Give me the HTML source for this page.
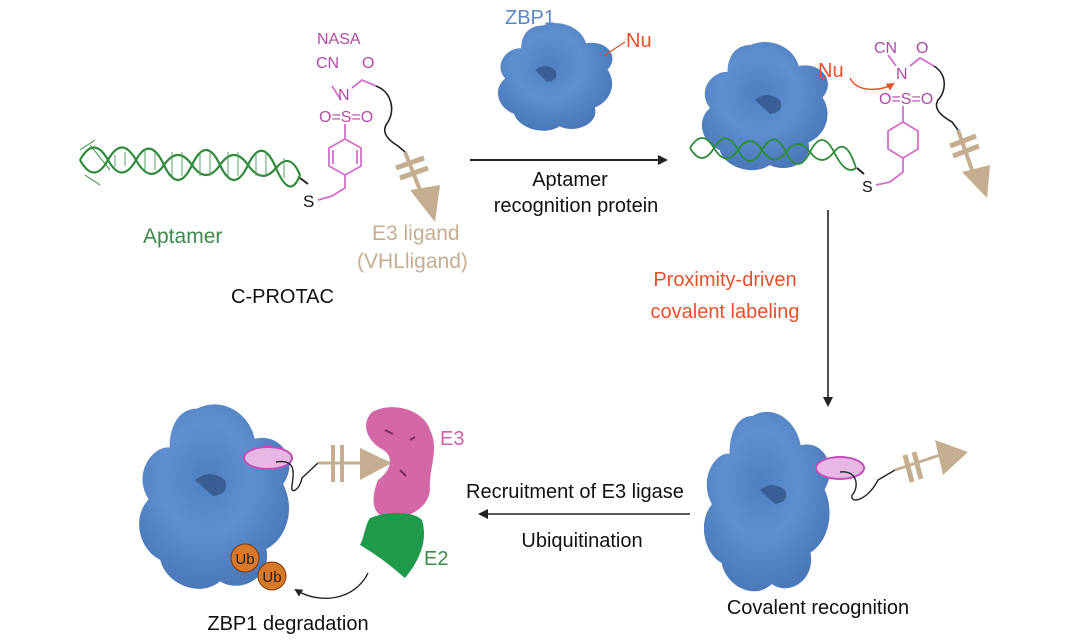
<!DOCTYPE html>
<html><head><meta charset="utf-8"><style>
html,body{margin:0;padding:0;background:#fff;}
svg{display:block;font-family:"Liberation Sans",sans-serif;}
</style></head><body>
<svg width="1080" height="641" viewBox="0 0 1080 641">
<defs>
<path id="blob" d="M-20,-80 C5,-92 30,-75 35,-52 C60,-58 78,-32 62,-10 C74,12 66,40 46,50 C52,76 22,92 2,80 C-18,96 -50,82 -55,60 C-76,50 -82,20 -66,4 C-82,-20 -62,-46 -46,-44 C-46,-66 -36,-80 -20,-80Z"/>
<radialGradient id="bg" cx="45%" cy="40%" r="60%"><stop offset="0" stop-color="#4f7fc0"/><stop offset="0.5" stop-color="#5f8fd0"/><stop offset="1" stop-color="#4a78b8"/></radialGradient>
<marker id="ah" markerWidth="10" markerHeight="10" refX="8" refY="5" orient="auto" markerUnits="userSpaceOnUse"><path d="M0,0 L10,5 L0,10 Z" fill="#222"/></marker>
<marker id="ahs" markerWidth="8" markerHeight="8" refX="6" refY="4" orient="auto" markerUnits="userSpaceOnUse"><path d="M0,0 L8,4 L0,8 Z" fill="#222"/></marker>
<marker id="ahr" markerWidth="8" markerHeight="8" refX="6" refY="4" orient="auto" markerUnits="userSpaceOnUse"><path d="M0,0 L8,4 L0,8 Z" fill="#e8502a"/></marker>
</defs>

<!-- ===== Top-left C-PROTAC ===== -->
<g stroke="#2e8a3a" fill="none" stroke-width="2.2">
<path d="M80,160 Q94,135 108,160 T136,160 T164,165 T192,165 T220,165 T248,165 T276,168 T300,175"/>
<path d="M80,160 Q94,185 108,160 T136,160 T164,165 T192,165 T220,165 T248,165 T276,168 T300,175"/>
<path d="M80,150 L95,140 M85,175 L100,185 M90,145 L110,170" stroke-width="1"/>
</g>
<g stroke="#5aa064" stroke-width="1">
<path d="M115,155v12M125,152v14M145,150v20M155,152v18M172,152v24M182,152v24M200,152v24M210,152v24M228,152v24M238,152v24M256,152v24M266,152v24M284,158v20"/>
</g>
<path d="M300,178 L308,184" stroke="#222" stroke-width="2"/>
<text x="303" y="207" font-size="17" fill="#111">S</text>
<g stroke="#d070c8" stroke-width="1.8" fill="none">
<path d="M318,200 L332,196 L345,188 L345,175"/>
<polygon points="345,175 329,166 329,148 345,139 361,148 361,166"/>
<path d="M333,164 V150 M357,164 V150"/>
<path d="M345,139 L345,124"/>
<path d="M341,100 L332,86 M352,88 L362,80 L376,86"/>
</g>
<text x="319" y="122" font-size="16" fill="#b04aa8">O=S=O</text>
<text x="338" y="100" font-size="16" fill="#b04aa8">N</text>
<text x="316" y="68" font-size="16" fill="#b04aa8">CN</text>
<text x="362" y="68" font-size="16" fill="#b04aa8">O</text>
<text x="317" y="44" font-size="16" fill="#b04aa8">NASA</text>
<path d="M376,86 C392,92 395,110 388,122 C380,132 388,140 398,146 L405,152" stroke="#222" stroke-width="1.6" fill="none"/>
<g stroke="#c4ad91" stroke-width="4" fill="none">
<path d="M405,152 L420,190"/>
<path d="M396,168 L424,158 M400,178 L428,168" stroke-width="5"/>
</g>
<polygon points="410,190 440,185 435,222" fill="#c4ad91"/>
<text x="143" y="243" font-size="21" fill="#3d8a4a">Aptamer</text>
<text x="372" y="240" font-size="21" fill="#c4ad91">E3 ligand</text>
<text x="357" y="268" font-size="21" fill="#c4ad91">(VHLligand)</text>
<text x="231" y="303" font-size="20" fill="#111">C-PROTAC</text>

<!-- ===== Top middle ===== -->
<use href="#blob" transform="translate(558,76) scale(0.8,0.63)" fill="url(#bg)"/>
<path d="M535,70 q10,-8 20,0 q5,10 -8,12z" fill="#2e4f80" opacity="0.7"/>
<text x="505" y="24" font-size="20" fill="#5b86c8">ZBP1</text>
<path d="M605,55 L625,42" stroke="#e8502a" stroke-width="1.2"/>
<text x="626" y="47" font-size="20" fill="#e8502a">Nu</text>
<path d="M470,160 L666,160" stroke="#222" stroke-width="2" marker-end="url(#ah)"/>
<text x="570" y="186" font-size="20" fill="#111" text-anchor="middle">Aptamer</text>
<text x="576" y="212" font-size="20" fill="#111" text-anchor="middle">recognition protein</text>

<!-- ===== Top right ===== -->
<use href="#blob" transform="translate(768,105) scale(0.88,0.75)" fill="url(#bg)"/>
<path d="M755,100 q12,-10 25,0 q5,12 -10,14z" fill="#2e4f80" opacity="0.7"/>
<g stroke="#2e8a3a" fill="none" stroke-width="1.8">
<path d="M690,148 Q702,128 714,148 T738,150 T762,150 T786,152 T810,152 T834,152 T856,168"/>
<path d="M690,148 Q702,168 714,148 T738,150 T762,150 T786,152 T810,152 T834,152 T856,168"/>
</g>
<path d="M857,168 L864,174" stroke="#222" stroke-width="2"/>
<text x="862" y="192" font-size="16" fill="#111">S</text>
<g stroke="#d070c8" stroke-width="1.8" fill="none">
<path d="M876,185 L890,182 L903,172 L903,158"/>
<polygon points="903,158 888,149 888,131 903,122 918,131 918,149"/>
<path d="M903,122 L903,106 M896,66 L888,55 M910,66 L920,58 L934,66"/>
</g>
<text x="879" y="104" font-size="16" fill="#b04aa8">O=S=O</text>
<text x="896" y="79" font-size="16" fill="#b04aa8">N</text>
<text x="874" y="53" font-size="16" fill="#b04aa8">CN</text>
<text x="916" y="53" font-size="16" fill="#b04aa8">O</text>
<path d="M934,66 C948,75 946,92 938,100 C932,110 945,118 952,122 L958,130" stroke="#222" stroke-width="1.6" fill="none"/>
<g stroke="#c4ad91" stroke-width="4" fill="none">
<path d="M958,130 L972,170"/><path d="M950,146 L976,136 M953,156 L979,146" stroke-width="5"/>
</g>
<polygon points="962,172 990,165 987,198" fill="#c4ad91"/>
<path d="M820,80 L826,76" stroke="#e8502a" stroke-width="1.2"/>
<text x="818" y="77" font-size="20" fill="#e8502a">Nu</text>
<path d="M850,78 C856,92 880,92 893,84" stroke="#e8502a" stroke-width="1.5" fill="none" marker-end="url(#ahr)"/>

<path d="M828,210 L828,405" stroke="#222" stroke-width="1.6" marker-end="url(#ah)"/>
<text x="725" y="286" font-size="20" fill="#e8502a" text-anchor="middle">Proximity-driven</text>
<text x="725" y="318" font-size="20" fill="#e8502a" text-anchor="middle">covalent labeling</text>

<!-- ===== Bottom right ===== -->
<use href="#blob" transform="translate(770,500) scale(0.88,1.05)" fill="url(#bg)"/>
<path d="M760,490 q12,-10 25,0 q5,12 -10,14z" fill="#2e4f80" opacity="0.7"/>
<ellipse cx="840" cy="468" rx="24" ry="11" fill="#e8b8e4" stroke="#c050b8" stroke-width="2"/>
<path d="M840,472 C860,470 858,490 852,495 C850,505 868,500 878,480 L895,470" stroke="#222" stroke-width="1.4" fill="none"/>
<path d="M895,470 L940,455" stroke="#c4ad91" stroke-width="3"/>
<path d="M905,455 L912,482 M914,452 L921,479" stroke="#c4ad91" stroke-width="5"/>
<polygon points="935,440 968,452 943,475" fill="#c4ad91"/>
<text x="818" y="614" font-size="20" fill="#111" text-anchor="middle">Covalent recognition</text>

<path d="M690,514 L480,514" stroke="#222" stroke-width="1.6" marker-end="url(#ah)"/>
<text x="575" y="498" font-size="20" fill="#111" text-anchor="middle">Recruitment of E3 ligase</text>
<text x="582" y="547" font-size="20" fill="#111" text-anchor="middle">Ubiquitination</text>

<!-- ===== Bottom left ===== -->
<use href="#blob" transform="translate(218,495) scale(1.05,1.08)" fill="url(#bg)"/>
<path d="M195,480 q15,-12 30,0 q5,14 -12,16z" fill="#2e4f80" opacity="0.7"/>
<ellipse cx="268" cy="458" rx="24" ry="11" fill="#e8b8e4" stroke="#c050b8" stroke-width="2"/>
<path d="M276,462 C300,458 292,480 292,486 C290,495 300,490 302,478 L318,463" stroke="#222" stroke-width="1.4" fill="none"/>
<path d="M318,463 L365,463" stroke="#c4ad91" stroke-width="3"/>
<path d="M333,445 V482 M342,445 V482" stroke="#c4ad91" stroke-width="4"/>
<polygon points="360,448 392,463 360,480" fill="#c4ad91"/>
<path d="M372,412 C395,400 425,412 430,430 C440,450 428,470 430,490 C428,510 405,520 385,518 C370,512 372,495 378,480 C392,470 395,455 380,448 C368,440 360,425 372,412Z" fill="#d468a6"/>
<path d="M385,430 l8,4 M400,470 l6,6 M410,440 l5,-3" stroke="#7a2a5a" stroke-width="2"/>
<path d="M370,518 C390,510 415,512 422,520 C428,540 420,560 405,578 C395,570 385,560 360,545 C365,535 365,525 370,518Z" fill="#1e9a4a"/>
<text x="440" y="445" font-size="20" fill="#d060a8">E3</text>
<text x="424" y="565" font-size="20" fill="#3d8a4a">E2</text>
<circle cx="245" cy="558" r="14" fill="#d97828" stroke="#7a3a10" stroke-width="1"/>
<circle cx="272" cy="576" r="14" fill="#d97828" stroke="#7a3a10" stroke-width="1"/>
<text x="245" y="564" font-size="15" fill="#222" text-anchor="middle">Ub</text>
<text x="272" y="582" font-size="15" fill="#222" text-anchor="middle">Ub</text>
<path d="M368,573 C355,600 320,605 296,590" stroke="#222" stroke-width="1.4" fill="none" marker-end="url(#ahs)"/>
<text x="288" y="630" font-size="20" fill="#111" text-anchor="middle">ZBP1 degradation</text>
</svg>
</body></html>
